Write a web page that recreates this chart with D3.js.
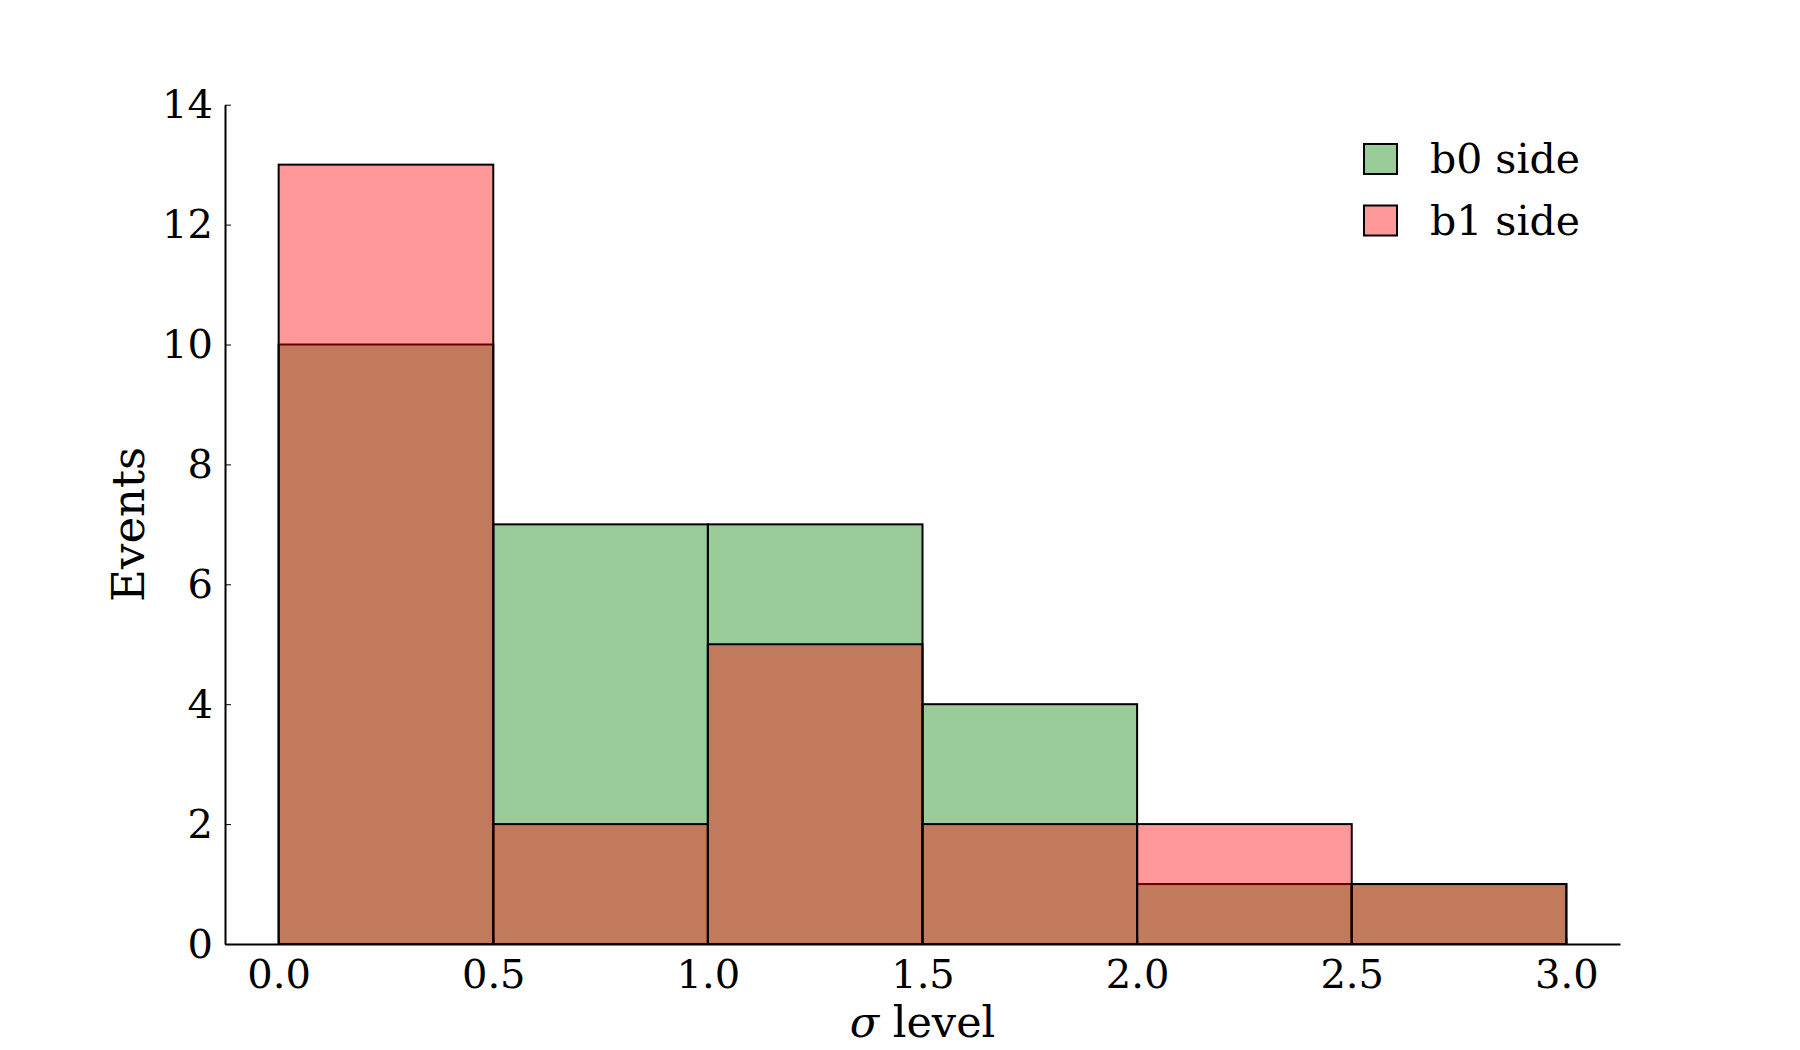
<!DOCTYPE html>
<html>
<head>
<meta charset="utf-8">
<script src="https://cdn.jsdelivr.net/npm/d3@7"></script>
<style>
  body { margin: 0; background: #fff; }
  svg text { font-family: "DejaVu Serif", serif; fill: #000; }
</style>
</head>
<body>
<div id="chart"></div>
<script>
// histogram bins and counts
const binEdges = [0, 0.5, 1.0, 1.5, 2.0, 2.5, 3.0];
const b0Counts = [10, 7, 7, 4, 1, 1];
const b1Counts = [13, 2, 5, 2, 2, 1];
const seriesNames = ['b0 side', 'b1 side'];
const xTicks = [0, 0.5, 1.0, 1.5, 2.0, 2.5, 3.0];
const yTicks = [0, 2, 4, 6, 8, 10, 12, 14];

const width = 1800, height = 1050;
const margin = {top: 104.7, bottom: 106, left: 225, right: 180};

const svg = d3.select('#chart')
              .append('svg')
              .attr('width', width)
              .attr('height', height);

const xScale = d3.scaleLinear()
                 .domain([-0.125, 3.125])
                 .range([margin.left, width - margin.right]);
const yScale = d3.scaleLinear()
                 .domain([0, 14])
                 .range([height - margin.bottom, margin.top]);

const colors = [
  {fill: '#008000', opacity: 0.4},
  {fill: '#ff0000', opacity: 0.4}
];

const toBins = counts => counts.map((c, i) => ({x0: binEdges[i], x1: binEdges[i + 1], count: c}));

[b0Counts, b1Counts].forEach((counts, s) => {
  svg.append('g')
     .attr('class', 'bars')
     .selectAll('rect')
     .data(toBins(counts))
     .enter()
     .append('rect')
     .attr('x', d => xScale(d.x0))
     .attr('y', d => yScale(d.count))
     .attr('width', d => xScale(d.x1) - xScale(d.x0))
     .attr('height', d => yScale(0) - yScale(d.count))
     .style('fill', colors[s].fill)
     .style('fill-opacity', colors[s].opacity)
     .style('stroke', '#000')
     .style('stroke-width', 2);
});

// axes
const xAxis = svg.append('g')
                 .attr('class', 'axis axis-x')
                 .attr('transform', `translate(0, ${yScale(0)})`)
                 .call(d3.axisBottom(xScale)
                         .tickValues(xTicks)
                         .tickFormat(d3.format('.1f'))
                         .tickSizeInner(-6)
                         .tickSizeOuter(0)
                         .tickPadding(14));
const yAxis = svg.append('g')
                 .attr('class', 'axis axis-y')
                 .attr('transform', `translate(${xScale.range()[0]}, 0)`)
                 .call(d3.axisLeft(yScale)
                         .tickValues(yTicks)
                         .tickSizeInner(-6)
                         .tickSizeOuter(0)
                         .tickPadding(12));

svg.selectAll('.axis path').style('stroke', '#000').style('stroke-width', 2);
svg.selectAll('.axis line').style('stroke', '#000').style('stroke-width', 1);
svg.selectAll('.axis text').style('font-size', '40px').style('font-family', '"DejaVu Serif", serif');
yAxis.selectAll('text').attr('dy', '0.33em');
xAxis.selectAll('text').attr('dy', '0.76em');

// axis labels
svg.append('text')
   .attr('x', (xScale.range()[0] + xScale.range()[1]) / 2)
   .attr('y', 1037)
   .attr('text-anchor', 'middle')
   .style('font-size', '43px')
   .html('<tspan font-style="italic">σ</tspan> level');

svg.append('text')
   .attr('transform', `translate(144, ${(yScale.range()[0] + yScale.range()[1]) / 2}) rotate(-90)`)
   .attr('text-anchor', 'middle')
   .style('font-size', '45px')
   .text('Events');

// legend
const legend = svg.append('g')
                  .attr('class', 'legend')
                  .attr('transform', 'translate(1364, 144)');
const items = legend.selectAll('g')
                    .data(seriesNames)
                    .enter()
                    .append('g')
                    .attr('transform', (d, i) => `translate(0, ${i * 61.5})`);
items.append('rect')
     .attr('width', 33)
     .attr('height', 30)
     .style('fill', (d, i) => colors[i].fill)
     .style('fill-opacity', (d, i) => colors[i].opacity)
     .style('stroke', '#000')
     .style('stroke-width', 2);
items.append('text')
     .attr('x', 66)
     .attr('y', 29)
     .style('font-size', '41px')
     .text(d => d);
</script>
</body>
</html>
